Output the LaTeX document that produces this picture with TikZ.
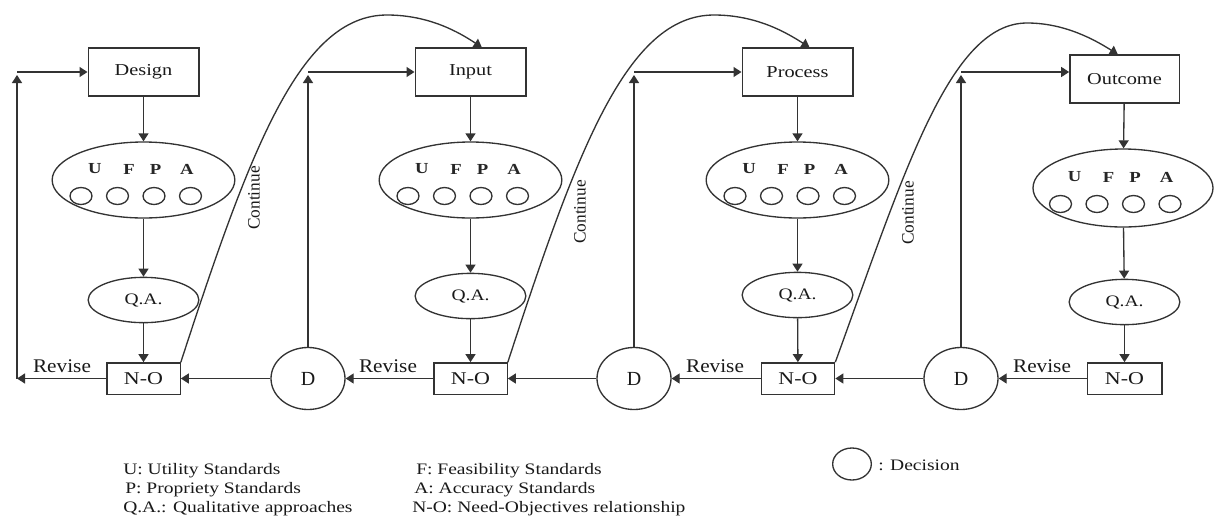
\documentclass[tikz,border=0pt]{standalone}
\usepackage{fontspec}
\setmainfont{Liberation Serif}
\usetikzlibrary{shapes.geometric,arrows.meta}
\newcommand{\sx}[1]{\scalebox{1.22}[1]{#1}}
\begin{document}
\begin{tikzpicture}[x=0.75pt,y=-0.75pt,
  ln/.style={draw=black!80,line width=1pt},
  arr/.style={ln,-{Triangle[length=6pt,width=7.5pt]}},
  box/.style={ln,rectangle,minimum width=83pt,minimum height=36pt,inner sep=0pt,font=\fontsize{12.5}{15}\selectfont,text=black!90},
  nobox/.style={ln,rectangle,minimum width=55pt,minimum height=23.5pt,inner sep=0pt,font=\fontsize{13.5}{15}\selectfont,text=black!90},
  std/.style={ln,ellipse,minimum width=137pt,minimum height=57pt,inner sep=0pt},
  qa/.style={ln,ellipse,minimum width=83pt,minimum height=34pt,inner sep=0pt,font=\fontsize{12}{14}\selectfont,text=black!90},
  dec/.style={ln,ellipse,minimum width=55.5pt,minimum height=46.5pt,inner sep=0pt,font=\fontsize{15}{17}\selectfont,text=black!90},
  sm/.style={ln,ellipse,minimum width=16.5pt,minimum height=12.75pt,inner sep=0pt},
  ltr/.style={font=\fontsize{11.5}{14}\selectfont\bfseries,inner sep=0pt,text=black!85},
  lbl/.style={font=\fontsize{14.5}{16}\selectfont,inner sep=0pt,text=black!90},
  cont/.style={font=\fontsize{13}{15}\selectfont,rotate=90,inner sep=0pt,text=black!90},
  leg/.style={font=\fontsize{12}{14}\selectfont,inner sep=0pt,anchor=base west,text=black!90},
]
\useasboundingbox (0,0) rectangle (1214,515);

% top boxes
\node[box] (Design)  at (143.5,72) {\sx{Design}};
\node[box] (Input)   at (470.5,72) {\sx{Input}};
\node[box] (Process) at (797.5,72) {\sx{Process}};
\node[box,minimum width=82pt] (Outcome) at (1124.5,79) {\sx{Outcome}};

% standards ellipses
\foreach \c/\cy [count=\i] in {143.5/180, 470.5/180, 797.5/180, 1123/188}{
  \node[std,minimum width={\ifnum\i=4 135pt\else 137pt\fi},minimum height={\ifnum\i=4 58.5pt\else 57pt\fi}] (S\i) at (\c,\cy) {};
  \node[ltr] (U\i) at ({\c-48.5},{\cy-11}) {\sx{U}};
  \node[ltr] (F\i) at ({\c-14.5},{\cy-11}) {\sx{F}};
  \node[ltr] (P\i) at ({\c+12},{\cy-11}) {\sx{P}};
  \node[ltr] (A\i) at ({\c+43.5},{\cy-11}) {\sx{A}};
  \node[sm] (cu\i) at ({\c-62.5},{\cy+16}) {};
  \node[sm] (cf\i) at ({\c-26},{\cy+16}) {};
  \node[sm] (cp\i) at ({\c+10.5},{\cy+16}) {};
  \node[sm] (ca\i) at ({\c+47},{\cy+16}) {};
}

% Q.A. ellipses
\node[qa] (Q1) at (143.5,300) {\sx{Q.A.}};
\node[qa] (Q2) at (470.5,296) {\sx{Q.A.}};
\node[qa] (Q3) at (797.5,295) {\sx{Q.A.}};
\node[qa] (Q4) at (1124.5,302) {\sx{Q.A.}};

% N-O boxes
\node[nobox] (N1) at (143.5,378.5) {\sx{N-O}};
\node[nobox] (N2) at (470.5,378.5) {\sx{N-O}};
\node[nobox] (N3) at (798,378.5) {\sx{N-O}};
\node[nobox,minimum width=56pt] (N4) at (1124.5,378.5) {\sx{N-O}};

% decisions
\node[dec] (D1) at (308,378.5) {D};
\node[dec] (D2) at (634,378.5) {D};
\node[dec] (D3) at (961,378.5) {D};

% vertical flow
\draw[arr] (Design) -- (S1);
\draw[arr] (Input) -- (S2);
\draw[arr] (Process) -- (S3);
\draw[arr] (Outcome) -- (S4);
\foreach \i in {1,...,4}{
  \draw[arr] (S\i) -- (Q\i);
  \draw[arr] (Q\i) -- (N\i);
}

% horizontal revise flow
\draw[arr] (D1) -- (N1);
\draw[arr] (N2) -- (D1);
\draw[arr] (D2) -- (N2);
\draw[arr] (N3) -- (D2);
\draw[arr] (D3) -- (N3);
\draw[arr] (N4) -- (D3);

% left loop back to Design
\coordinate (L1) at (17,378.5);
\coordinate (L2) at (17,75);
\coordinate (L3) at (17,72);
\draw[arr] (N1.west) -- (L1);
\draw[arr] (L1) -- (L2);
\draw[arr] (L3) -- (Design.west);

% decision loops
\coordinate (T1) at (308,75);  \coordinate (H1) at (308,72);
\coordinate (T2) at (634,75);  \coordinate (H2) at (634,72);
\coordinate (T3) at (961,75);  \coordinate (H3) at (961,72);
\draw[arr] (D1) -- (T1);
\draw[arr] (H1) -- (Input.west);
\draw[arr] (D2) -- (T2);
\draw[arr] (H2) -- (Process.west);
\draw[arr] (D3) -- (T3);
\draw[arr] (H3) -- (H3 -| Outcome.west);

% continue curves
\draw[arr] (N1.north east) .. controls (250,150) and (300,15) .. (387,15)
  .. controls (430,15) and (460,33) .. ([xshift=8.5pt]Input.north);
\draw[arr] (N2.north east) .. controls (577,150) and (627,15) .. (714,15)
  .. controls (757,15) and (787,33) .. ([xshift=9pt]Process.north);
\draw[arr] (N3.north east) .. controls (905,170) and (950,23) .. (1027,23)
  .. controls (1065,23) and (1095,40) .. ([xshift=-5pt]Outcome.north);

\node[cont] (C1) at (254,198) {Continue};
\node[cont] (C2) at (580,212) {Continue};
\node[cont] (C3) at (908,213) {Continue};

% revise labels
\node[lbl] (R1) at (62,366) {\scalebox{1.1}[1]{Revise}};
\node[lbl] (R2) at (388,366) {\scalebox{1.1}[1]{Revise}};
\node[lbl] (R3) at (715,366) {\scalebox{1.1}[1]{Revise}};
\node[lbl] (R4) at (1042,366) {\scalebox{1.1}[1]{Revise}};

% legend
\node[leg] (G1) at (123,474) {\sx{U: Utility Standards}};
\node[leg] (G2) at (125,493) {\sx{P: Propriety Standards}};
\node[leg] (G3) at (123,512) {\sx{Q.A.: Qualitative approaches}};
\node[leg] (G4) at (416,474) {\sx{F: Feasibility Standards}};
\node[leg] (G5) at (414,493) {\sx{A: Accuracy Standards}};
\node[leg] (G6) at (412,512) {\sx{N-O: Need-Objectives relationship}};
\node[ln,ellipse,minimum width=29pt,minimum height=24pt,inner sep=0pt] (DL) at (852,464) {};
\node[leg] (G7) at (878,470) {\sx{: Decision}};
\end{tikzpicture}
\end{document}
